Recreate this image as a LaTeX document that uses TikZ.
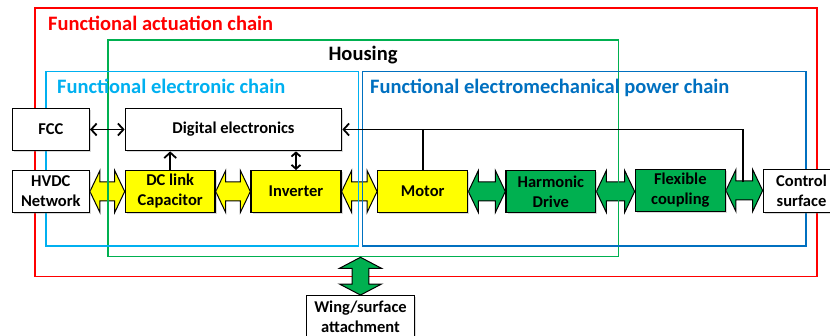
\documentclass[tikz,border=0pt]{standalone}
\usepackage{fontspec}
\setmainfont{Carlito}
\usetikzlibrary{arrows.meta,calc,shadows}
\definecolor{cred}{RGB}{255,0,0}
\definecolor{cgreen}{RGB}{0,176,80}
\definecolor{clblue}{RGB}{0,176,240}
\definecolor{cdblue}{RGB}{0,112,192}
\definecolor{cyellow}{RGB}{255,255,0}
\pgfdeclarelayer{arrowsl}
\pgfdeclarelayer{framesl}
\pgfsetlayers{arrowsl,framesl,main}
\newcommand\hdbl[3]{%
  \path[dblarr,fill=#3] let \p1=(#1.east), \p2=(#2.west) in
   (\x1,\y1) -- (\x1+10pt,\y1+21pt) -- (\x1+10pt,\y1+9.5pt) -- (\x2-10pt,\y1+9.5pt)
   -- (\x2-10pt,\y1+21pt) -- (\x2,\y1) -- (\x2-10pt,\y1-21pt) -- (\x2-10pt,\y1-9.5pt)
   -- (\x1+10pt,\y1-9.5pt) -- (\x1+10pt,\y1-21pt) -- cycle;}
\begin{document}
\begin{tikzpicture}[x=1pt,y=-1pt,
  box/.style={draw=black, line width=1.3pt, fill=white, inner sep=0pt, align=center,
    font=\fontsize{16.5}{20}\selectfont\bfseries,
    drop shadow={shadow xshift=1.5pt,shadow yshift=-1.5pt,opacity=0.3}},
  frame/.style={line width=1.6pt},
  title/.style={font=\fontsize{20.5}{24}\selectfont\bfseries, anchor=base west, inner sep=0pt},
  conn/.style={line width=1.8pt},
  barb/.tip={Straight Barb[length=5.5pt,width=12pt]},
  sbarb/.tip={Straight Barb[length=4pt,width=9pt]},
  dblarr/.style={draw=black,line width=1pt}]
\clip (0,0) rectangle (830,336);
% boxes
\node[box, minimum width=77pt, minimum height=42.4pt] (fcc) at (50.8,129.5) {FCC};
\node[box, minimum width=216.4pt, minimum height=42.4pt] (de) at (233.5,129.5) {Digital electronics};
\node[box, minimum width=77pt, minimum height=41.6pt] (hvdc) at (50.8,191.5) {HVDC\\Network};
\node[box, fill=cyellow, minimum width=89.7pt, minimum height=41.6pt] (dc) at (170.2,191.5) {DC link\\Capacitor};
\node[box, fill=cyellow, minimum width=90pt, minimum height=41.6pt] (inv) at (296,191.5) {Inverter};
\node[box, fill=cyellow, minimum width=90pt, minimum height=41.6pt] (motor) at (422.7,191.5) {Motor};
\node[box, fill=cgreen, minimum width=89.7pt, minimum height=41.6pt] (hd) at (550.85,191.5) {Harmonic\\Drive};
\node[box, fill=cgreen, minimum width=90pt, minimum height=42.4pt] (fc) at (680.3,190.5) {Flexible\\coupling};
\node[box, minimum width=76.4pt, minimum height=43pt] (cs) at (801.5,190.8) {Control\\surface};
\node[box, minimum width=107.6pt, minimum height=60pt] (wing) at (360.5,325.7) {};
\node[inner sep=0pt, align=center, font=\fontsize{16.5}{20}\selectfont\bfseries] (wingtext) at (360.5,317) {Wing/surface\\attachment};
% horizontal power arrows
\begin{pgfonlayer}{arrowsl}
\hdbl{hvdc}{dc}{cyellow}
\hdbl{dc}{inv}{cyellow}
\hdbl{inv}{motor}{cyellow}
\hdbl{motor}{hd}{cgreen}
\hdbl{hd}{fc}{cgreen}
\hdbl{fc}{cs}{cgreen}
\end{pgfonlayer}
% frames
\begin{pgfonlayer}{framesl}
\draw[frame, cred] (35,8.3) rectangle (816.7,276.7);
\draw[frame, cgreen] (107.7,40) rectangle (618.3,256.7);
\draw[frame, clblue] (45.7,71.7) rectangle (358.3,246);
\draw[frame, cdblue] (362.3,71.7) rectangle (806,246);
\end{pgfonlayer}
% titles
\node[title, text=cred] (t1) at (48,30.3) {Functional actuation chain};
\node[title, anchor=base] (t2) at (363,60.7) {Housing};
\node[title, text=clblue] (t3) at (57,94) {Functional electronic chain};
\node[title, text=cdblue] (t4) at (370,94) {Functional electromechanical power chain};
% wing arrow
\coordinate (wingtop) at (360.5,257.3);
\path[dblarr,fill=cgreen] let \p1=(wingtop), \p2=(wing.north) in
  (\x1,\y1) -- (\x1+21pt,\y1-11pt) -- (\x1+8.3pt,\y1-11pt) -- (\x1+8.3pt,\y2+11pt)
  -- (\x1+21pt,\y2+11pt) -- (\x1,\y2) -- (\x1-21pt,\y2+11pt) -- (\x1-8.3pt,\y2+11pt)
  -- (\x1-8.3pt,\y1-11pt) -- (\x1-21pt,\y1-11pt) -- cycle;
% signal connectors
\draw[conn,barb-barb] (fcc) -- (de);
\draw[conn,-barb] (dc.north) -- (dc.north |- de.south);
\draw[conn,sbarb-sbarb] (inv.north) -- (inv.north |- de.south);
\coordinate (cj) at (743.3,182.5);
\draw[conn,-barb] (cj) |- (de.east);
\draw[conn] (motor.north) -- (motor.north |- de.east);
\end{tikzpicture}
\end{document}
